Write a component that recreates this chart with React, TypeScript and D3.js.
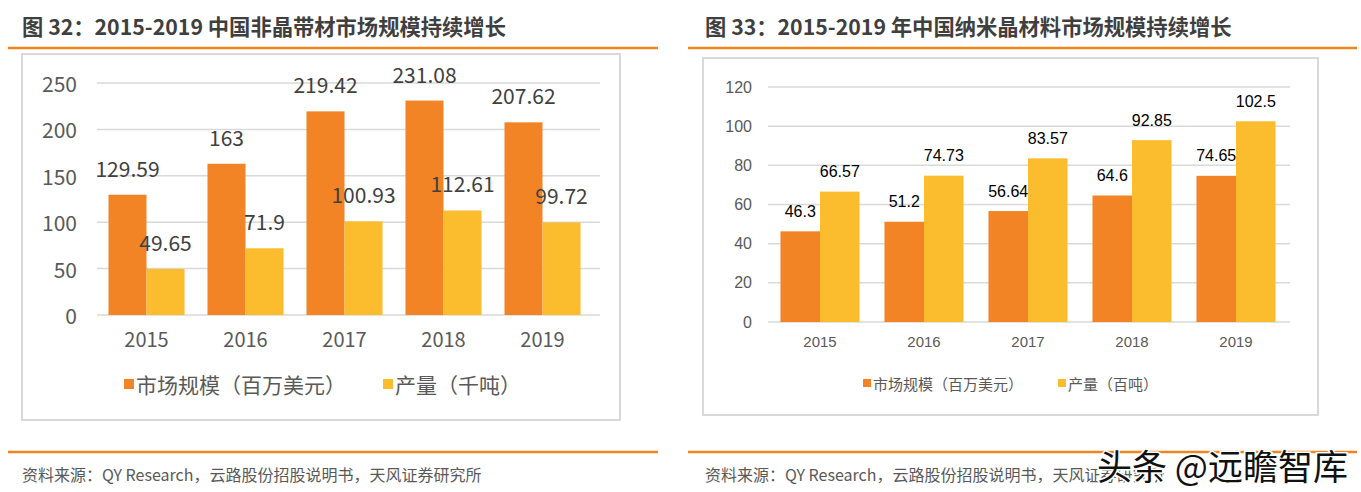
import * as d3 from 'd3'

const YEARS = ['2015', '2016', '2017', '2018', '2019']
// 图32 非晶带材
const AMORPH_MARKET = [129.59, 163, 219.42, 231.08, 207.62]
const AMORPH_OUTPUT = [49.65, 71.9, 100.93, 112.61, 99.72]
const AMORPH_TICKS = [0, 50, 100, 150, 200, 250]
// 图33 纳米晶
const NANO_MARKET = [46.3, 51.2, 56.64, 64.6, 74.65]
const NANO_OUTPUT = [66.57, 74.73, 83.57, 92.85, 102.5]
const NANO_TICKS = [0, 20, 40, 60, 80, 100, 120]

const ORANGE = '#F28425'
const YELLOW = '#FBBC2D'
const GRID = '#D9D9D9'
const ORANGE_RULE = '#F08420'
const SOURCE = '资料来源：QY Research，云路股份招股说明书，天风证券研究所'

const CJK = '"Noto Sans CJK SC", "Noto Sans", sans-serif'
const ARIAL = '"Liberation Sans", Arial, "Noto Sans CJK SC", sans-serif'
const NARROW = '"Liberation Sans Narrow", "Noto Sans CJK SC", sans-serif'

type PanelProps = {
  title: string
  titleX: number
  ruleX: [number, number]
  box: { x: number; y: number; w: number; h: number }
  xRange: [number, number]
  yRange: [number, number]
  yMax: number
  ticks: number[]
  market: number[]
  output: number[]
  tickFont: string
  tickSize: number
  tickColor: string
  tickX: number
  gridEnd: number
  labelFont: string
  labelSize: number
  labelColor: string
  labelOffset: number
  xLabelY: number
  xLabelSize: number
  padding: number
  legend: { y: number; x1: number; x2: number; sq: number; size: number; names: [string, string] }
}

function Panel(p: PanelProps) {
  const x = d3.scaleBand<string>().domain(YEARS).range(p.xRange).paddingInner(p.padding).paddingOuter(p.padding / 2)
  const sub = d3.scaleBand<string>().domain(['m', 'o']).range([0, x.bandwidth()])
  const y = d3.scaleLinear().domain([0, p.yMax]).range(p.yRange)

  return (
    <g>
      <text x={p.titleX} y={35} fontFamily={NARROW} fontWeight="bold" fontSize={21.3} fill="#3F3F3F">
        {p.title}
      </text>
      <line x1={p.ruleX[0]} x2={p.ruleX[1]} y1={48} y2={48} stroke={ORANGE_RULE} strokeWidth={2.5} />
      <rect x={p.box.x} y={p.box.y} width={p.box.w} height={p.box.h} fill="#fff" stroke="#D9D9D9" strokeWidth={2} />
      {p.ticks.map((t) => (
        <g key={t}>
          <line x1={p.xRange[0]} x2={p.gridEnd} y1={y(t)} y2={y(t)} stroke={GRID} strokeWidth={1.5} />
          <text
            x={p.tickX}
            y={y(t)}
            textAnchor="end"
            dominantBaseline="central"
            fontFamily={p.tickFont}
            fontSize={p.tickSize}
            fill={p.tickColor}
          >
            {t}
          </text>
        </g>
      ))}
      {YEARS.map((yr, i) => {
        const x0 = x(yr) ?? 0
        const vals: Array<[string, number, string]> = [
          ['m', p.market[i], ORANGE],
          ['o', p.output[i], YELLOW],
        ]
        return (
          <g key={yr}>
            {vals.map(([k, v, c]) => {
              const bx = x0 + (sub(k) ?? 0)
              return (
                <g key={k}>
                  <rect x={bx} y={y(v)} width={sub.bandwidth()} height={y(0) - y(v)} fill={c} />
                  <text
                    x={bx + sub.bandwidth() / 2}
                    y={y(v) - p.labelOffset}
                    textAnchor="middle"
                    dominantBaseline="central"
                    fontFamily={p.labelFont}
                    fontSize={p.labelSize}
                    fill={p.labelColor}
                  >
                    {v}
                  </text>
                </g>
              )
            })}
            <text
              x={x0 + x.bandwidth() / 2}
              y={p.xLabelY}
              textAnchor="middle"
              dominantBaseline="central"
              fontFamily={p.tickFont}
              fontSize={p.xLabelSize}
              fill={p.tickColor}
            >
              {yr}
            </text>
          </g>
        )
      })}
      {[
        [p.legend.x1, ORANGE, p.legend.names[0]],
        [p.legend.x2, YELLOW, p.legend.names[1]],
      ].map(([lx, c, n]) => (
        <g key={n as string}>
          <rect
            x={lx as number}
            y={p.legend.y - p.legend.sq / 2}
            width={p.legend.sq}
            height={p.legend.sq}
            fill={c as string}
          />
          <text
            x={(lx as number) + p.legend.sq + 2}
            y={p.legend.y}
            dominantBaseline="central"
            fontFamily={CJK}
            fontSize={p.legend.size}
            fill="#595959"
          >
            {n}
          </text>
        </g>
      ))}
      <line x1={p.ruleX[0]} x2={p.ruleX[1]} y1={452} y2={452} stroke={ORANGE_RULE} strokeWidth={2.5} />
      <text x={p.titleX} y={474} dominantBaseline="central" fontFamily={CJK} fontSize={16} fill="#595959">
        {SOURCE}
      </text>
    </g>
  )
}

export default function App() {
  return (
    <svg
      width={1361}
      height={492}
      style={{ position: 'absolute', left: 0, top: 0, display: 'block', background: '#fff' }}
    >
      <rect width={1361} height={492} fill="#fff" />
      <Panel
        title="图 32：2015-2019 中国非晶带材市场规模持续增长"
        titleX={22}
        ruleX={[8, 658]}
        box={{ x: 22, y: 54, w: 598, h: 366 }}
        xRange={[97, 592]}
        yRange={[315, 83]}
        yMax={250}
        ticks={AMORPH_TICKS}
        market={AMORPH_MARKET}
        output={AMORPH_OUTPUT}
        tickFont={CJK}
        tickSize={21}
        tickColor="#595959"
        tickX={77}
        gridEnd={600}
        labelFont={CJK}
        labelSize={21}
        labelColor="#404040"
        labelOffset={27}
        xLabelY={338}
        xLabelSize={20}
        padding={0.232}
        legend={{ y: 384, x1: 124, x2: 383, sq: 10, size: 21, names: ['市场规模（百万美元）', '产量（千吨）'] }}
      />
      <Panel
        title="图 33：2015-2019 年中国纳米晶材料市场规模持续增长"
        titleX={705}
        ruleX={[688, 1357]}
        box={{ x: 703, y: 58, w: 615, h: 357 }}
        xRange={[768, 1288]}
        yRange={[322, 87]}
        yMax={120}
        ticks={NANO_TICKS}
        market={NANO_MARKET}
        output={NANO_OUTPUT}
        tickFont={ARIAL}
        tickSize={16}
        tickColor="#595959"
        tickX={752}
        gridEnd={1290}
        labelFont={ARIAL}
        labelSize={16}
        labelColor="#000"
        labelOffset={20}
        xLabelY={341}
        xLabelSize={15}
        padding={0.24}
        legend={{ y: 383, x1: 863, x2: 1058, sq: 8, size: 15, names: ['市场规模（百万美元）', '产量（百吨）'] }}
      />
      <text
        x={1097}
        y={464}
        dominantBaseline="central"
        fontFamily={CJK}
        fontSize={35}
        fill="#111"
        stroke="#fff"
        strokeWidth={3}
        paintOrder="stroke"
      >
        头条 @远瞻智库
      </text>
    </svg>
  )
}
